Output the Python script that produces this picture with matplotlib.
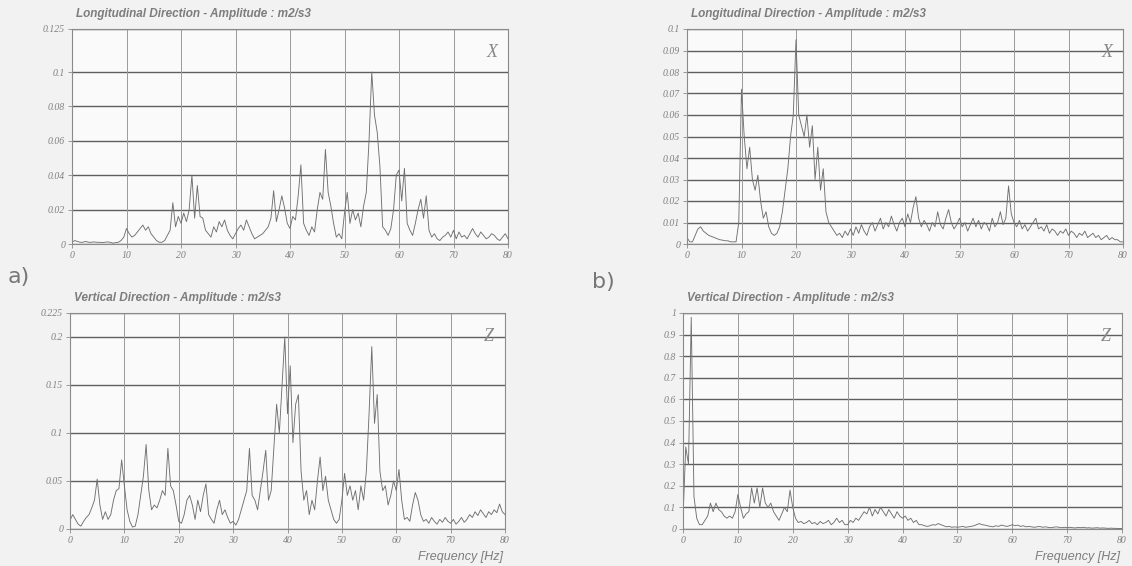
import numpy as np
import matplotlib
matplotlib.use("Agg")
import matplotlib.pyplot as plt

# frequency axis, 0..80 Hz every 0.5 Hz
freq = np.arange(0, 80.01, 0.5)

# a) longitudinal (X)
a_x = [0.001, 0.002, 0.0015, 0.001, 0.001, 0.0015, 0.001, 0.001, 0.0012, 0.001, 0.001, 0.0008, 0.001, 0.0012, 0.001, 0.0005, 0.0008, 0.001, 0.002, 0.004,
       0.009, 0.006, 0.004, 0.005, 0.007, 0.009, 0.011, 0.008, 0.010, 0.006, 0.004, 0.002, 0.001, 0.001, 0.002, 0.005, 0.008, 0.024, 0.010, 0.016,
       0.012, 0.018, 0.013, 0.020, 0.040, 0.015, 0.034, 0.016, 0.015, 0.008, 0.006, 0.004, 0.010, 0.007, 0.013, 0.010, 0.014, 0.008, 0.005, 0.003,
       0.006, 0.009, 0.011, 0.008, 0.014, 0.010, 0.006, 0.003, 0.004, 0.005, 0.006, 0.008, 0.010, 0.015, 0.031, 0.013, 0.020, 0.028, 0.021, 0.012,
       0.009, 0.016, 0.014, 0.028, 0.046, 0.012, 0.008, 0.005, 0.010, 0.007, 0.020, 0.030, 0.026, 0.055, 0.030, 0.022, 0.012, 0.004, 0.006, 0.003,
       0.018, 0.030, 0.012, 0.020, 0.014, 0.018, 0.010, 0.022, 0.030, 0.060, 0.100, 0.075, 0.065, 0.045, 0.010, 0.008, 0.005, 0.009, 0.020, 0.040,
       0.043, 0.025, 0.044, 0.012, 0.008, 0.005, 0.012, 0.020, 0.026, 0.015, 0.028, 0.008, 0.004, 0.006, 0.003, 0.002, 0.004, 0.005, 0.007, 0.004,
       0.008, 0.003, 0.007, 0.004, 0.005, 0.003, 0.006, 0.009, 0.006, 0.004, 0.007, 0.005, 0.003, 0.004, 0.006, 0.005, 0.003, 0.002, 0.004, 0.006, 0.003]

# a) vertical (Z)
a_z = [0.009, 0.015, 0.010, 0.005, 0.003, 0.008, 0.012, 0.015, 0.022, 0.030, 0.052, 0.025, 0.010, 0.018, 0.010, 0.015, 0.030, 0.040, 0.042, 0.072,
       0.045, 0.020, 0.008, 0.002, 0.003, 0.015, 0.035, 0.055, 0.088, 0.040, 0.020, 0.025, 0.022, 0.030, 0.040, 0.035, 0.084, 0.045, 0.040, 0.025,
       0.008, 0.006, 0.015, 0.030, 0.035, 0.025, 0.010, 0.030, 0.018, 0.035, 0.047, 0.015, 0.010, 0.006, 0.020, 0.030, 0.015, 0.020, 0.012, 0.006,
       0.008, 0.004, 0.010, 0.020, 0.030, 0.040, 0.084, 0.035, 0.030, 0.020, 0.040, 0.060, 0.082, 0.030, 0.040, 0.085, 0.130, 0.100, 0.150, 0.200,
       0.120, 0.170, 0.090, 0.130, 0.140, 0.060, 0.030, 0.040, 0.015, 0.030, 0.020, 0.050, 0.075, 0.040, 0.055, 0.030, 0.020, 0.010, 0.006, 0.010,
       0.030, 0.058, 0.035, 0.045, 0.030, 0.040, 0.020, 0.045, 0.030, 0.060, 0.120, 0.190, 0.110, 0.140, 0.060, 0.040, 0.045, 0.025, 0.035, 0.050,
       0.040, 0.062, 0.030, 0.010, 0.012, 0.008, 0.025, 0.038, 0.030, 0.015, 0.008, 0.010, 0.006, 0.012, 0.008, 0.005, 0.010, 0.007, 0.012, 0.008,
       0.006, 0.010, 0.005, 0.008, 0.012, 0.007, 0.010, 0.015, 0.012, 0.018, 0.014, 0.020, 0.016, 0.012, 0.018, 0.015, 0.020, 0.017, 0.026, 0.018, 0.015]

# b) longitudinal (X)
b_x = [0.003, 0.001, 0.001, 0.004, 0.007, 0.008, 0.006, 0.005, 0.004, 0.0035, 0.003, 0.0025, 0.002, 0.0018, 0.0015, 0.0015, 0.001, 0.001, 0.001, 0.010,
       0.072, 0.050, 0.035, 0.045, 0.030, 0.025, 0.032, 0.020, 0.012, 0.015, 0.008, 0.005, 0.004, 0.005, 0.008, 0.015, 0.025, 0.035, 0.050, 0.060,
       0.095, 0.060, 0.055, 0.050, 0.060, 0.045, 0.055, 0.030, 0.045, 0.025, 0.035, 0.015, 0.010, 0.008, 0.006, 0.004, 0.005, 0.003, 0.006, 0.004,
       0.007, 0.004, 0.008, 0.005, 0.009, 0.006, 0.004, 0.008, 0.010, 0.006, 0.009, 0.012, 0.007, 0.010, 0.008, 0.013, 0.009, 0.006, 0.010, 0.012,
       0.008, 0.014, 0.010, 0.017, 0.022, 0.012, 0.008, 0.011, 0.009, 0.006, 0.010, 0.008, 0.015, 0.009, 0.007, 0.012, 0.016, 0.010, 0.007, 0.009,
       0.012, 0.008, 0.010, 0.006, 0.009, 0.012, 0.008, 0.011, 0.007, 0.010, 0.009, 0.006, 0.012, 0.008, 0.010, 0.015, 0.009, 0.012, 0.027, 0.014,
       0.010, 0.008, 0.011, 0.007, 0.009, 0.006, 0.008, 0.010, 0.012, 0.007, 0.008, 0.006, 0.009, 0.005, 0.007, 0.006, 0.004, 0.006, 0.005, 0.007,
       0.004, 0.006, 0.005, 0.003, 0.005, 0.004, 0.006, 0.003, 0.004, 0.005, 0.003, 0.004, 0.002, 0.003, 0.004, 0.002, 0.003, 0.002, 0.002, 0.001, 0.001]

# b) vertical (Z)
b_z = [0.05, 0.38, 0.30, 0.98, 0.15, 0.05, 0.02, 0.02, 0.04, 0.06, 0.12, 0.08, 0.12, 0.09, 0.08, 0.06, 0.05, 0.06, 0.05, 0.08,
       0.16, 0.10, 0.05, 0.07, 0.08, 0.19, 0.12, 0.19, 0.10, 0.19, 0.12, 0.10, 0.12, 0.08, 0.06, 0.04, 0.07, 0.10, 0.08, 0.18,
       0.10, 0.05, 0.03, 0.035, 0.025, 0.03, 0.04, 0.025, 0.03, 0.02, 0.035, 0.025, 0.03, 0.04, 0.02, 0.03, 0.05, 0.03, 0.04, 0.02,
       0.02, 0.04, 0.03, 0.05, 0.04, 0.06, 0.08, 0.07, 0.10, 0.06, 0.09, 0.07, 0.10, 0.08, 0.06, 0.09, 0.07, 0.05, 0.08, 0.06,
       0.05, 0.06, 0.04, 0.05, 0.03, 0.04, 0.02, 0.02, 0.015, 0.012, 0.015, 0.02, 0.018, 0.025, 0.02, 0.015, 0.01, 0.012, 0.008, 0.01,
       0.008, 0.01, 0.012, 0.008, 0.01, 0.012, 0.015, 0.02, 0.025, 0.02, 0.018, 0.015, 0.012, 0.01, 0.015, 0.012, 0.018, 0.015, 0.012, 0.015,
       0.02, 0.015, 0.018, 0.012, 0.015, 0.01, 0.012, 0.01, 0.008, 0.01, 0.012, 0.008, 0.01, 0.008, 0.006, 0.008, 0.01, 0.008, 0.006, 0.008,
       0.006, 0.008, 0.006, 0.005, 0.007, 0.006, 0.008, 0.005, 0.006, 0.004, 0.005, 0.006, 0.004, 0.005, 0.004, 0.003, 0.004, 0.003, 0.003, 0.002, 0.002]

xticks = [0, 10, 20, 30, 40, 50, 60, 70, 80]
yticks_ax = [0, 0.02, 0.04, 0.06, 0.08, 0.1, 0.125]
yticks_az = [0, 0.05, 0.1, 0.15, 0.2, 0.225]
yticks_bx = [0, 0.01, 0.02, 0.03, 0.04, 0.05, 0.06, 0.07, 0.08, 0.09, 0.1]
yticks_bz = [0, 0.1, 0.2, 0.3, 0.4, 0.5, 0.6, 0.7, 0.8, 0.9, 1]

title_x = "Longitudinal Direction - Amplitude : m2/s3"
title_z = "Vertical Direction - Amplitude : m2/s3"

W, H = 1132, 566
fig = plt.figure(figsize=(W / 100, H / 100), dpi=100, facecolor="#f2f2f2")


def box(x0, y0, x1, y1):
    # pixel box -> figure fraction
    return [x0 / W, 1 - y1 / H, (x1 - x0) / W, (y1 - y0) / H]


def panel(rect, y, yticks, title, letter, freq_label):
    ax = fig.add_axes(rect)
    ax.set_facecolor("#fafafa")
    ax.plot(freq, y, color="#707070", lw=0.65)
    ax.set_xlim(0, 80)
    ax.set_ylim(0, yticks[-1])
    ax.set_xticks(xticks)
    ax.set_yticks(yticks)
    ax.set_yticklabels([f"{t:g}" for t in yticks])
    for t in yticks:
        ax.axhline(t, color="#5f5f5f", lw=1.0, zorder=0)
    for t in xticks:
        ax.axvline(t, color="#9a9a9a", lw=0.7, zorder=0)
    for s in ax.spines.values():
        s.set_color("#8a8a8a")
        s.set_linewidth(0.8)
    ax.tick_params(length=3, width=0.6, color="#8a8a8a", labelcolor="#808080",
                   labelsize=7, pad=2)
    for lab in ax.get_xticklabels() + ax.get_yticklabels():
        lab.set_fontstyle("italic")
        lab.set_family("Liberation Serif")
    ax.text(0.01, 1.04, title, transform=ax.transAxes, ha="left", va="bottom",
            fontsize=8.5, fontweight="bold", fontstyle="italic", color="#7d7d7d",
            family="Liberation Sans")
    ax.text(0.975, 0.93, letter, transform=ax.transAxes, ha="right", va="top",
            fontsize=13, fontstyle="italic", color="#888888", family="Liberation Serif")
    if freq_label:
        ax.text(0.995, -0.1, "Frequency [Hz]", transform=ax.transAxes, ha="right", va="top",
                fontsize=9, fontstyle="italic", color="#7d7d7d", family="Liberation Sans")
    return ax


panel(box(72, 29, 508, 244), a_x, yticks_ax, title_x, "X", False)
panel(box(70, 313, 505, 529), a_z, yticks_az, title_z, "Z", True)
panel(box(687, 29, 1123, 244), b_x, yticks_bx, title_x, "X", False)
panel(box(683, 313, 1122, 529), b_z, yticks_bz, title_z, "Z", True)

fig.text(8 / W, 1 - 277 / H, "a)", fontsize=16, color="#777777", va="center", ha="left")
fig.text(592 / W, 1 - 282 / H, "b)", fontsize=16, color="#777777", va="center", ha="left")

fig.savefig("out.png", dpi=100, facecolor=fig.get_facecolor())
